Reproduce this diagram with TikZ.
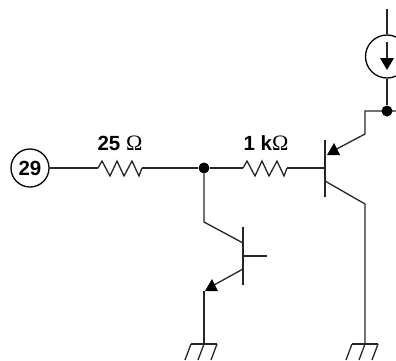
\documentclass[tikz,border=0pt]{standalone}
\usepackage{fontspec}
\setmainfont{Liberation Sans}
\newfontfamily\serifomega{Liberation Serif}
\usetikzlibrary{positioning}
\tikzset{
  wire/.style={line width=1.3pt, black!85, line join=miter},
  junct/.style={circle, fill=black, inner sep=0pt, minimum size=11pt},
  tip/.style={fill=black, draw=none},
  lbl/.style={font=\fontsize{20.5}{22}\selectfont\bfseries, inner sep=0pt},
  pics/resistor/.style={code={
    \draw[wire] (0,0) -- (4,-7) -- (12,8) -- (19,-7) -- (26,8) -- (34,-7) -- (41,8) -- (44,0);
  }}
}
\begin{document}
\begin{tikzpicture}[x=1pt, y=-1pt, >=latex]
  \useasboundingbox (0,0) rectangle (396,360);

  % Input node and the two resistors
  \node[circle, draw, line width=1.3pt, minimum size=38pt, inner sep=0pt, lbl] (pin) at (30,168) {29};
  \node[junct] (jbase) at (204,168) {};
  \coordinate (ra) at (98,168);
  \coordinate (rb) at (142,168);
  \coordinate (rc) at (243,168);
  \coordinate (rd) at (287,168);
  \pic at (ra) {resistor};
  \pic at (rc) {resistor};
  \node[lbl] (lra) at (120,143.5) {25 {\mdseries\serifomega\fontsize{22}{22}\selectfont Ω}};
  \node[lbl] (lrb) at (266,143.5) {1 k{\mdseries\serifomega\fontsize{22}{22}\selectfont Ω}};
  \draw[wire] (pin) -- (ra);
  \draw[wire] (rb) -- (jbase);
  \draw[wire] (jbase) -- (rc);

  % PNP transistor
  \coordinate (pbase) at (325,168);
  \coordinate (pbt) at (325,140);
  \coordinate (pbb) at (325,197);
  \coordinate (pe) at (331,152);
  \coordinate (pek) at (365,134);
  \coordinate (pet) at (365,111);
  \coordinate (pck) at (325,181);
  \coordinate (pc) at (365,204);
  \draw[wire] (rd) -- (pbase);
  \draw[wire] (pbt) -- (pbb);
  \draw[wire] (pe) -- (pek) -- (pet) -- (396,111);
  \fill[tip] (327,155) -- (340,155) -- (334,143) -- cycle;
  \draw[wire] (pck) -- (pc) -- (365,344);

  % Current source
  \node[junct] (jtop) at (387,111) {};
  \node[circle, draw, line width=1.3pt, minimum size=43pt, inner sep=0pt] (src) at (387,56.5) {};
  \coordinate (vcc) at (387,9);
  \draw[wire] (vcc) -- (src);
  \draw[wire] (src) -- (jtop);
  \draw[wire] (387,42) -- (387,60);
  \fill[tip] (380,58) -- (394,58) -- (387,70) -- cycle;

  % NPN transistor
  \coordinate (nbt) at (243,227);
  \coordinate (nbb) at (243,285);
  \coordinate (nb) at (267,256);
  \coordinate (nck) at (204,222);
  \coordinate (nc) at (243,243);
  \coordinate (ne) at (243,269);
  \coordinate (nek) at (214,285);
  \coordinate (nel) at (204,291);
  \draw[wire] (jbase) -- (nck) -- (nc);
  \draw[wire] (nbt) -- (nbb);
  \draw[wire] (243,256) -- (nb);
  \draw[wire] (ne) -- (nek);
  \fill[tip] (205,291) -- (218,291) -- (212,279) -- cycle;
  \draw[wire] (nel) -- (204,344);

  % Grounds
  \foreach \gx in {204,365} {
    \draw[wire] (\gx-13,344) -- (\gx+13,344);
    \foreach \hx in {-13,0,13}
      \draw[wire] (\gx+\hx,344) -- (\gx+\hx-6,360);
  }
\end{tikzpicture}
\end{document}
